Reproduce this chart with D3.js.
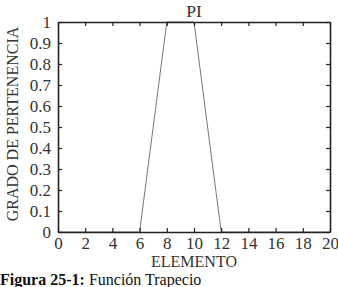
<!DOCTYPE html>
<html>
<head>
<meta charset="utf-8">
<script src="https://cdn.jsdelivr.net/npm/d3@7"></script>
<style>
  body { margin: 0; background: #fff; }
  text { font-family: "Liberation Serif", "DejaVu Serif", serif; fill: #333; }
</style>
</head>
<body>
<svg id="chart" width="338" height="287"></svg>
<script>
// trapezoid membership function
const elemento = [0, 6, 8, 10, 12, 20];
const grado = [0, 0, 1, 1, 0, 0];
const xTicks = [0, 2, 4, 6, 8, 10, 12, 14, 16, 18, 20];
const yTicks = [0, 0.1, 0.2, 0.3, 0.4, 0.5, 0.6, 0.7, 0.8, 0.9, 1];

const svg = d3.select('#chart'),
  margin = {top: 22, left: 58, bottom: 55, right: 8},
  width = +svg.attr('width') - margin.left - margin.right,
  height = +svg.attr('height') - margin.top - margin.bottom;

const x = d3.scaleLinear().domain([0, 20]).range([0, width]);
const y = d3.scaleLinear().domain([0, 1]).range([height, 0]);

const g = svg.append('g')
  .attr('transform', 'translate(' + margin.left + ',' + margin.top + ')');

// data line
g.append('path')
  .datum(elemento.map(function(d, i) { return [d, grado[i]]; }))
  .attr('fill', 'none')
  .attr('stroke', '#777')
  .attr('stroke-width', 1)
  .attr('d', d3.line()
    .x(function(d) { return x(d[0]); })
    .y(function(d) { return y(d[1]); }));

// axes with inward ticks on all four sides
const fmt = function(d) { return String(+d.toFixed(1)); };

const axBottom = g.append('g')
  .attr('transform', 'translate(0,' + height + ')')
  .call(d3.axisBottom(x).tickValues(xTicks).tickSize(-4).tickSizeOuter(0));
const axLeft = g.append('g')
  .call(d3.axisLeft(y).tickValues(yTicks).tickFormat(fmt).tickSize(-4).tickPadding(7).tickSizeOuter(0));
const axTop = g.append('g')
  .call(d3.axisTop(x).tickValues(xTicks).tickSize(-4).tickFormat('').tickSizeOuter(0));
const axRight = g.append('g')
  .attr('transform', 'translate(' + width + ',0)')
  .call(d3.axisRight(y).tickValues(yTicks).tickSize(-4).tickFormat('').tickSizeOuter(0));

[axBottom, axLeft, axTop, axRight].forEach(function(a) {
  a.select('.domain').attr('stroke', '#222').attr('stroke-width', 1.6);
  a.selectAll('.tick line').attr('stroke', '#222').attr('stroke-width', 1.2);
  a.selectAll('.tick text')
    .style('font-family', '"Liberation Serif", serif')
    .style('font-size', '17px')
    .attr('fill', '#333');
});
axBottom.selectAll('.tick text').attr('y', 16.5).attr('dy', null);

// labels
svg.append('text')
  .attr('x', margin.left + width / 2)
  .attr('y', 17)
  .attr('text-anchor', 'middle')
  .style('font-size', '17.5px')
  .text('PI');

svg.append('text')
  .attr('x', margin.left + width / 2)
  .attr('y', 266.5)
  .attr('text-anchor', 'middle')
  .style('font-size', '16px')
  .text('ELEMENTO');

svg.append('text')
  .attr('transform', 'translate(18,124) rotate(-90)')
  .attr('text-anchor', 'middle')
  .style('font-size', '16px')
  .text('GRADO DE PERTENENCIA');

const cap = svg.append('text')
  .attr('x', 0)
  .attr('y', 284.5)
  .style('font-size', '16px')
  .style('fill', '#111');
cap.append('tspan').style('font-weight', 'bold').text('Figura 25-1:');
cap.append('tspan').text(' Función Trapecio');
</script>
</body>
</html>
